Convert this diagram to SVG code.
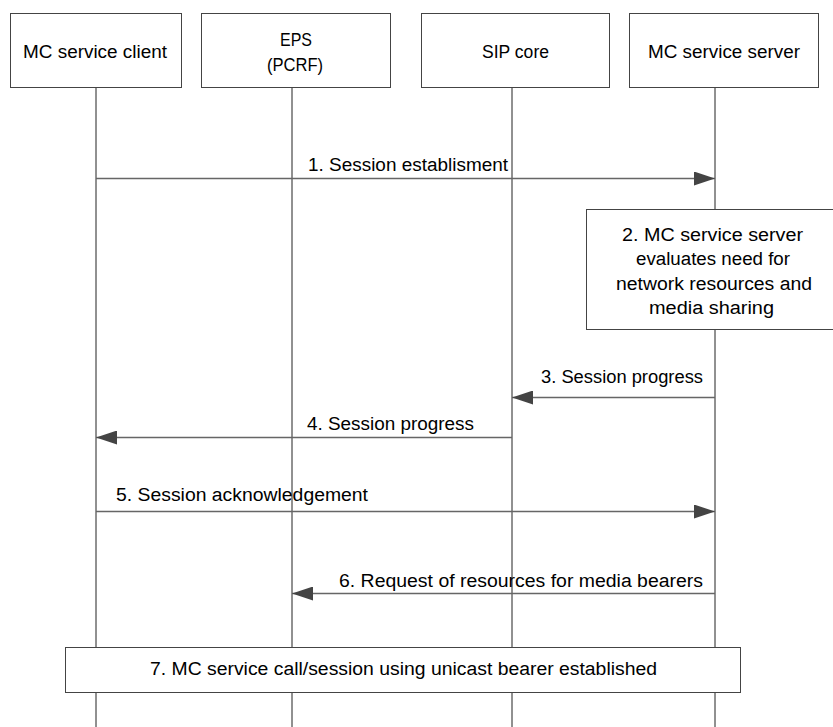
<svg xmlns="http://www.w3.org/2000/svg" width="833" height="727" viewBox="0 0 833 727">
<style>
.box{fill:#fff;stroke:#444;stroke-width:1}
.life{stroke:#222;stroke-width:1}
.msg{stroke:#666;stroke-width:1.3;fill:none}
text{font-family:"Liberation Sans",Arial,sans-serif;font-size:18px;fill:#000}
</style>
<defs>
<marker id="ah" markerWidth="22" markerHeight="14" refX="21" refY="7" orient="auto" markerUnits="userSpaceOnUse">
<path d="M0,0 L21,7 L0,14 Z" fill="#444"/>
</marker>
</defs>
<g id="lifelines">
<line class="life" x1="96" y1="87" x2="96" y2="727"/>
<line class="life" x1="292" y1="88" x2="292" y2="727"/>
<line class="life" x1="512" y1="88" x2="512" y2="727"/>
<line class="life" x1="715" y1="88" x2="715" y2="727"/>
</g>
<g id="client"><rect class="box" x="10.5" y="13.5" width="171" height="74"/><text x="23" y="58" textLength="144" lengthAdjust="spacingAndGlyphs">MC service client</text></g>
<g id="eps"><rect class="box" x="201.5" y="13.5" width="189" height="74"/><text x="280" y="46" textLength="32" lengthAdjust="spacingAndGlyphs">EPS</text><text x="267" y="71" textLength="56" lengthAdjust="spacingAndGlyphs">(PCRF)</text></g>
<g id="sip"><rect class="box" x="421.5" y="13.5" width="188" height="74"/><text x="482" y="58" textLength="67" lengthAdjust="spacingAndGlyphs">SIP core</text></g>
<g id="server"><rect class="box" x="629.5" y="13.5" width="189" height="74"/><text x="648" y="58" textLength="152" lengthAdjust="spacingAndGlyphs">MC service server</text></g>
<g id="connectors">
<line class="msg" x1="96" y1="178.5" x2="715" y2="178.5" marker-end="url(#ah)"/>
<line class="msg" x1="715" y1="397.5" x2="512" y2="397.5" marker-end="url(#ah)"/>
<line class="msg" x1="512" y1="437.5" x2="96" y2="437.5" marker-end="url(#ah)"/>
<line class="msg" x1="96" y1="511.5" x2="715" y2="511.5" marker-end="url(#ah)"/>
<line class="msg" x1="715" y1="593.5" x2="292" y2="593.5" marker-end="url(#ah)"/>
</g>
<g id="labels">
<text x="308" y="171" textLength="200" lengthAdjust="spacingAndGlyphs">1. Session establisment</text>
<text x="541" y="383" textLength="162" lengthAdjust="spacingAndGlyphs">3. Session progress</text>
<text x="307" y="430" textLength="167" lengthAdjust="spacingAndGlyphs">4.  Session progress</text>
<text x="116" y="501" textLength="252" lengthAdjust="spacingAndGlyphs">5.  Session acknowledgement</text>
<text x="339" y="587" textLength="364" lengthAdjust="spacingAndGlyphs">6. Request of resources for media bearers</text>
</g>
<g id="step2"><rect class="box" x="586.5" y="209.5" width="250" height="120"/>
<text x="622" y="241" textLength="181" lengthAdjust="spacingAndGlyphs">2. MC service server</text>
<text x="636" y="265" textLength="154" lengthAdjust="spacingAndGlyphs">evaluates need for</text>
<text x="616" y="290" textLength="196" lengthAdjust="spacingAndGlyphs">network resources and</text>
<text x="649" y="314" textLength="125" lengthAdjust="spacingAndGlyphs">media sharing</text></g>
<g id="step7"><rect class="box" x="65.5" y="647.5" width="675" height="45"/>
<text x="150" y="675" textLength="507" lengthAdjust="spacingAndGlyphs">7. MC service call/session using unicast bearer established</text></g>
</svg>
